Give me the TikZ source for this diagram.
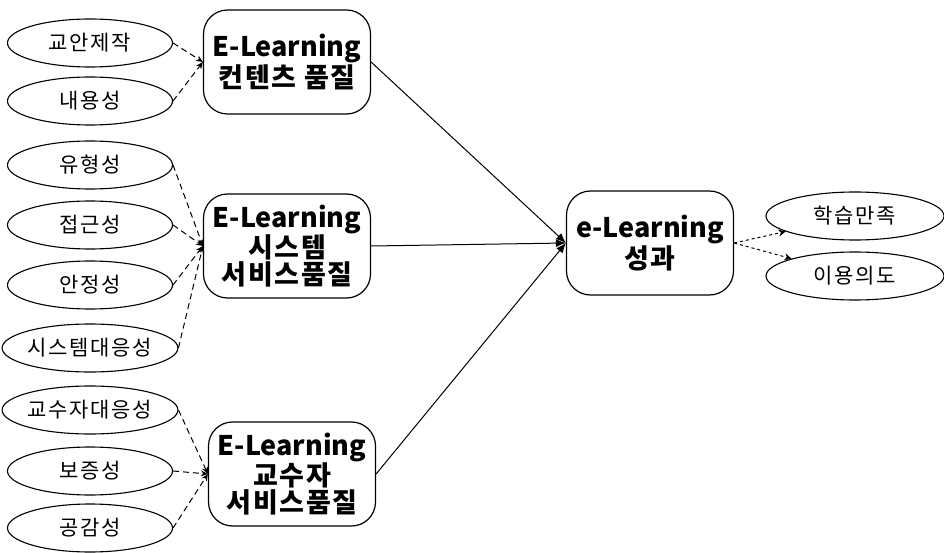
\documentclass[tikz,border=0pt]{standalone}
\usepackage{fontspec}
\setmainfont{Noto Sans CJK KR}
\newfontfamily\krwide[LetterSpace=8]{Noto Sans CJK KR}
\newfontfamily\krbox[LetterSpace=6]{Noto Sans CJK KR}
\usetikzlibrary{shapes.geometric,arrows.meta}
\newcommand{\boxko}[1]{{\krbox\bfseries\fontsize{27}{23}\selectfont #1}}
\begin{document}
\begin{tikzpicture}[x=1pt,y=-1pt,
  factor/.style={ellipse,draw,line width=1.1pt,minimum width=165pt,minimum height=48pt,inner sep=0pt,font=\krwide\fontsize{21}{22}\selectfont},
  construct/.style={draw,line width=1.2pt,rounded corners=24pt,minimum width=167pt,minimum height=104pt,align=center,font=\bfseries\fontsize{27}{24}\selectfont},
  measure/.style={draw,line width=1pt,dash pattern=on 6pt off 4pt,-{Stealth[length=7pt,width=6pt]}},
  path/.style={draw,line width=1pt,-{Latex[length=10pt,width=8pt]}},
  result/.style={draw,line width=1pt,dash pattern=on 3pt off 3pt,-{Stealth[length=7pt,width=7pt]}}]
\useasboundingbox (0,0) rectangle (944,553);

% measured factors
\node[factor] (f1) at (90,43) {교안제작};
\node[factor] (f2) at (90,101) {내용성};
\node[factor] (f3) at (90,165) {유형성};
\node[factor] (f4) at (90,225) {접근성};
\node[factor] (f5) at (90,285) {안정성};
\node[factor] (f6) at (90,348) {시스템대응성};
\node[factor] (f7) at (90,410) {교수자대응성};
\node[factor] (f8) at (90,471) {보증성};
\node[factor] (f9) at (90,528) {공감성};

% constructs
\node[construct] (c1) at (287,62) {E-Learning\\\boxko{컨텐츠 품질}};
\node[construct] (c2) at (287,246) {E-Learning\\\boxko{시스템}\\\boxko{서비스품질}};
\node[construct] (c3) at (292,474) {E-Learning\\\boxko{교수자}\\\boxko{서비스품질}};
\node[construct] (out) at (650,243) {e-Learning\\\boxko{성과}};

% outcome measures
\node[factor,minimum width=178pt] (r1) at (855,216) {학습만족};
\node[factor,minimum width=178pt] (r2) at (855,276) {이용의도};

% measurement links
\foreach \f in {f1,f2} \path[measure] (\f.east) -- (c1.west);
\foreach \f in {f3,f4,f5,f6} \path[measure] (\f.east) -- (c2.west);
\foreach \f in {f7,f8,f9} \path[measure] (\f.east) -- (c3.west);

% structural paths
\foreach \c in {c1,c2,c3} \path[path] (\c.east) -- (out.west);

% outcome links
\path[result] (out.east) -- (r1);
\path[result] (out.east) -- (r2);
\end{tikzpicture}
\end{document}
